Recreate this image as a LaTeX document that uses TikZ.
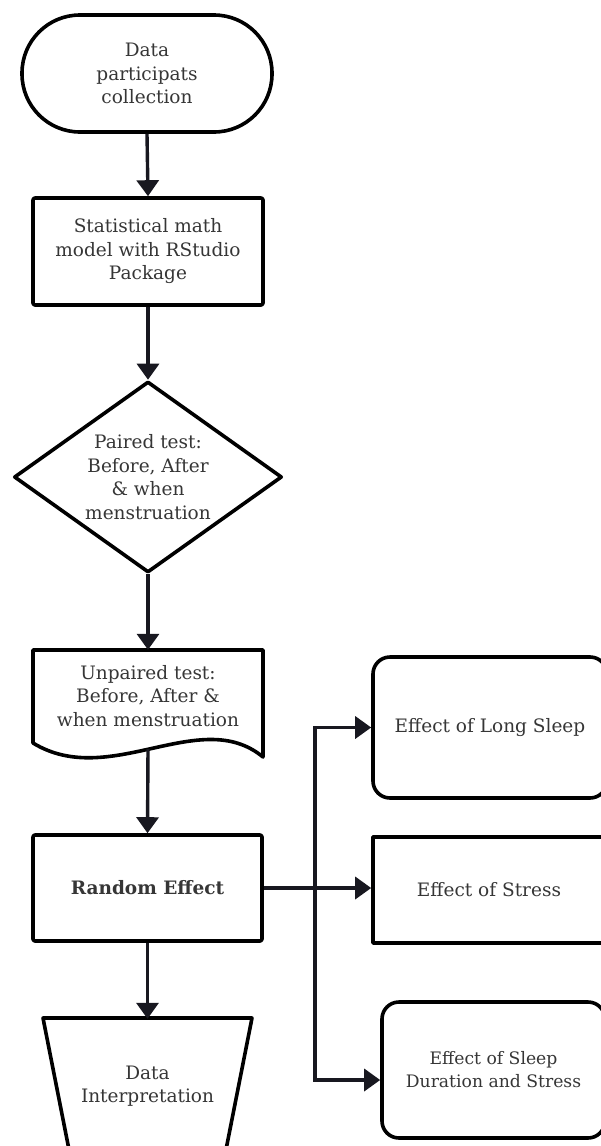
\documentclass[tikz,border=0pt]{standalone}
\usepackage{fontspec}
\setmainfont{DejaVu Serif}
\usetikzlibrary{arrows.meta,shapes.geometric,calc}
\definecolor{txt}{HTML}{363636}
\definecolor{arrc}{HTML}{181820}
\begin{document}
\begin{tikzpicture}[x=1pt,y=-1pt,
  every node/.style={font=\fontsize{18.5}{23.5}\selectfont, text=txt, align=center, inner sep=0pt},
  outline/.style={draw=black, line width=3.6pt, line join=round},
  conn/.style={draw=arrc, line width=3.4pt, -{Triangle[width=22pt,length=16pt]}},
  plainbox/.style={outline, rectangle, rounded corners=2pt},
  roundbox/.style={outline, rectangle, rounded corners=17pt},
  smalltxt/.style={font=\fontsize{17.2}{23}\selectfont},
]
\fill[white] (0,0) rectangle (600,1146);
\useasboundingbox (0,0) rectangle (600,1146);

% main column
\node[outline, rectangle, rounded corners=58pt, minimum width=250pt, minimum height=117pt] (start) at (147,73.5) {Data\\participats\\collection};
\node[plainbox, minimum width=230pt, minimum height=107pt] (model) at (148,251.5) {Statistical math\\model with RStudio\\Package};
\node[outline, diamond, aspect=1.4, minimum width=268pt, minimum height=191pt] (paired) at (148,477) {Paired test:\\Before, After\\\& when\\menstruation};
\node[minimum width=230pt, minimum height=92pt] (unpaired) at (148,696) {Unpaired test:\\Before, After \&\\when menstruation};
\draw[outline] (33,650) -- (263,650) -- (263,757) .. controls (200,705) and (110,790) .. (33,743) -- cycle;
\coordinate (unpb) at (148,749);
\node[plainbox, minimum width=229pt, minimum height=106pt, font=\fontsize{18.5}{23.5}\selectfont\bfseries] (random) at (147.5,888) {Random Effect};
\node[minimum width=209pt, minimum height=134pt] (interp) at (147.5,1086) {Data\\Interpretation};
\draw[outline] (43,1018) -- (252,1018) -- (220,1180) -- (75,1180) -- cycle;

% right column
\node[roundbox, minimum width=234pt, minimum height=141pt] (long) at (490,727.5) {Effect of Long Sleep};
\node[plainbox, rounded corners=0pt, minimum width=232pt, minimum height=106pt] (stress) at (489,890) {Effect of Stress};
\node[roundbox, smalltxt, minimum width=223pt, minimum height=136pt] (dur) at (493.5,1070) {Effect of Sleep\\Duration and Stress};

% connectors
\coordinate (jn) at (315,888);
\draw[conn] (start.south) -- (model.north);
\draw[conn] (model.south) -- (paired.north);
\draw[conn] (paired.south) -- (unpaired.north);
\draw[conn] (unpb) -- (random.north);
\draw[conn] (random.south) -- (interp.north);
\draw[conn] (random.east) -- (stress.west |- jn);
\draw[conn] (jn) |- (long.west);
\draw[conn] (jn) |- ($(dur.west)+(0,10)$);
\end{tikzpicture}
\end{document}
